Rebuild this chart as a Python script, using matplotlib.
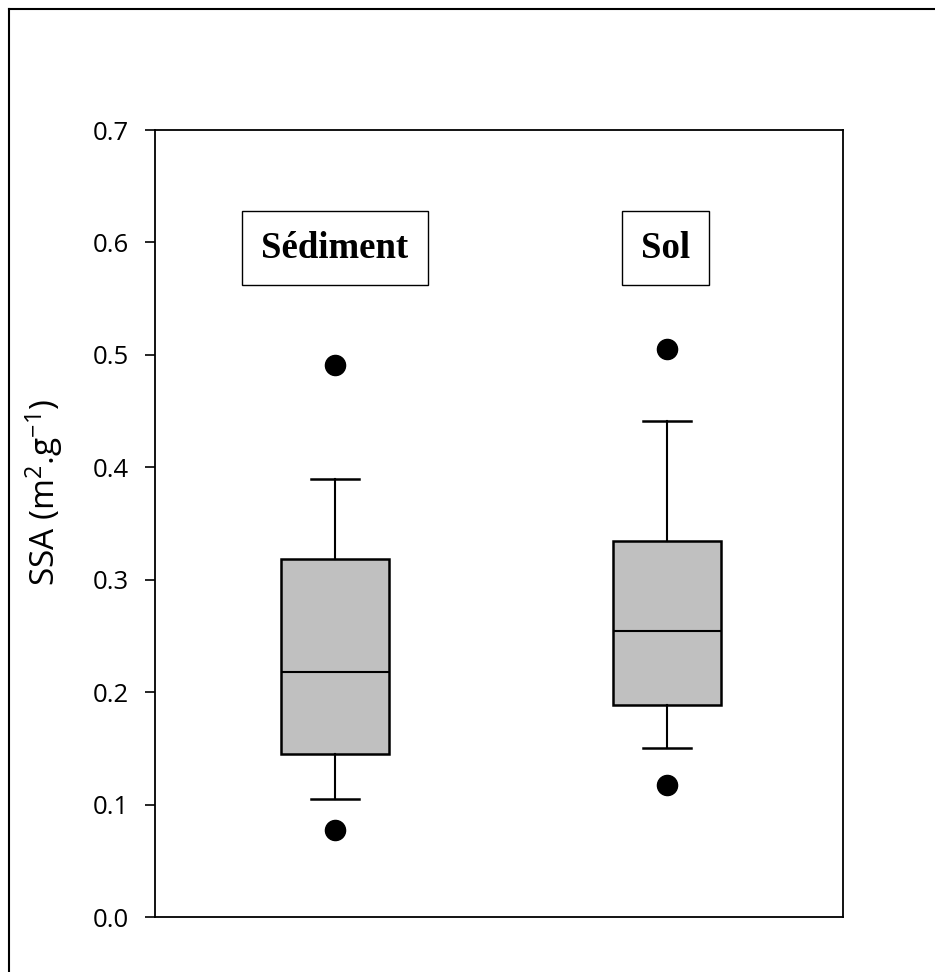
import matplotlib
matplotlib.use("Agg")
import matplotlib.pyplot as plt
from matplotlib.lines import Line2D

# ---- data ----
categories = ["Sédiment", "Sol"]
q1 = [0.145, 0.189]
medians = [0.218, 0.254]
q3 = [0.318, 0.334]
whis_lo = [0.105, 0.150]
whis_hi = [0.390, 0.441]
fliers = [[0.491, 0.077], [0.505, 0.117]]
yticks = [0.0, 0.1, 0.2, 0.3, 0.4, 0.5, 0.6, 0.7]

plt.rcParams['font.family'] = ['Open Sans', 'DejaVu Sans']
plt.rcParams['mathtext.fontset'] = 'custom'
plt.rcParams['mathtext.rm'] = 'Open Sans'
plt.rcParams['mathtext.it'] = 'Open Sans'

W, H = 935, 972
fig = plt.figure(figsize=(W / 100, H / 100), dpi=100)
left, right, top, bottom = 155, 843, 130, 917
ax = fig.add_axes([left / W, 1 - bottom / H, (right - left) / W, (bottom - top) / H])

stats = []
for i in range(len(categories)):
    stats.append(dict(med=medians[i], q1=q1[i], q3=q3[i],
                      whislo=whis_lo[i], whishi=whis_hi[i],
                      fliers=fliers[i], label=categories[i]))

positions = [1, 2]
ax.bxp(stats, positions=positions, widths=0.325, capwidths=0.142,
       patch_artist=True, showfliers=True,
       boxprops=dict(facecolor='#c0c0c0', edgecolor='black', linewidth=1.8),
       medianprops=dict(color='black', linewidth=1.5),
       whiskerprops=dict(color='black', linewidth=1.5),
       capprops=dict(color='black', linewidth=1.8),
       flierprops=dict(marker='o', markerfacecolor='black',
                       markeredgecolor='black', markersize=14.5))

ax.set_xlim(0.4578, 2.530)
ax.set_ylim(0, 0.7)
ax.set_yticks(yticks)
ax.set_yticklabels([f"{v:.1f}" for v in yticks])
ax.set_xticks([])
ax.tick_params(axis='y', direction='out', length=7.5, width=1.2,
               labelsize=18.5, pad=11)
for s in ax.spines.values():
    s.set_linewidth(1.3)
    s.set_color('black')

# category labels in boxes
label_y = 0.595
for i, c in enumerate(categories):
    ax.text(positions[i] + (0.0 if i == 0 else -0.005), label_y, c,
            ha='center', va='center', fontsize=26.5, fontweight='bold',
            family='Liberation Serif',
            bbox=dict(boxstyle='square,pad=0.52', facecolor='white',
                      edgecolor='black', linewidth=1.0))

# y label
fig.text(44 / W, 1 - 492 / H, r"SSA (m$^{2}$.g$^{-1}$)", rotation=90,
         ha='center', va='center', fontsize=24)

# outer frame (only top and left edges visible)
fig.add_artist(Line2D([9 / W, 9 / W], [0, 1 - 9 / H], transform=fig.transFigure,
                      color='black', linewidth=1.5))
fig.add_artist(Line2D([9 / W, 1], [1 - 9 / H, 1 - 9 / H], transform=fig.transFigure,
                      color='black', linewidth=1.5))

fig.savefig("out.png", dpi=100, facecolor='white')
